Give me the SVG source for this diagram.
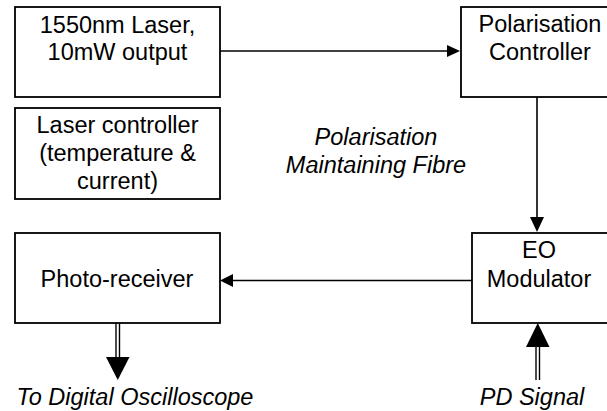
<svg xmlns="http://www.w3.org/2000/svg" width="607" height="411" viewBox="0 0 607 411">
<style>
.box{fill:#fff;stroke:#000;stroke-width:1.8}
.t{font-family:"Liberation Sans",Arial,sans-serif;font-size:23.5px;fill:#000;text-anchor:middle}
.i{font-style:italic}
.ln{stroke:#000;stroke-width:1.6;fill:none}
.dl{stroke:#000;stroke-width:1.4;fill:none}
.hd{fill:#000;stroke:none}
</style>
<rect width="607" height="411" fill="#fff"/>
<g id="laser">
<rect class="box" x="15" y="7" width="205" height="90"/>
<text class="t" x="117.5" y="33">1550nm Laser,</text>
<text class="t" x="117.5" y="60">10mW output</text>
</g>
<g id="laser-controller">
<rect class="box" x="15" y="108" width="205" height="91"/>
<text class="t" x="117.5" y="133">Laser controller</text>
<text class="t" x="117.5" y="161">(temperature &amp;</text>
<text class="t" x="117.5" y="189">current)</text>
</g>
<g id="polarisation-controller">
<rect class="box" x="461" y="7" width="160" height="90"/>
<text class="t" x="540" y="32">Polarisation</text>
<text class="t" x="540" y="60">Controller</text>
</g>
<g id="eo-modulator">
<rect class="box" x="472" y="233" width="150" height="90"/>
<text class="t" x="539" y="258">EO</text>
<text class="t" x="539" y="287">Modulator</text>
</g>
<g id="photo-receiver">
<rect class="box" x="15" y="233" width="205" height="90"/>
<text class="t" x="117" y="287">Photo-receiver</text>
</g>
<g id="labels">
<text class="t i" x="376" y="145">Polarisation</text>
<text class="t i" x="376" y="173">Maintaining Fibre</text>
<text class="t i" x="135" y="405">To Digital Oscilloscope</text>
<text class="t i" x="532" y="405">PD Signal</text>
</g>
<g id="connectors">
<line class="ln" x1="220" y1="51" x2="448" y2="51"/>
<polygon class="hd" points="460,51 447,45 447,57"/>
<line class="ln" x1="537" y1="97" x2="537" y2="219"/>
<polygon class="hd" points="537,232 530,217 544,217"/>
<line class="ln" x1="472" y1="280.5" x2="232" y2="280.5"/>
<polygon class="hd" points="220,280.5 233,274 233,287"/>
<line class="dl" x1="116" y1="323" x2="116" y2="359"/>
<line class="dl" x1="119.5" y1="323" x2="119.5" y2="359"/>
<polygon class="hd" points="117.75,380 106,357 129.5,357"/>
<line class="dl" x1="536" y1="380" x2="536" y2="345"/>
<line class="dl" x1="539.5" y1="380" x2="539.5" y2="345"/>
<polygon class="hd" points="537.75,323 526,347 549.5,347"/>
</g>
</svg>
